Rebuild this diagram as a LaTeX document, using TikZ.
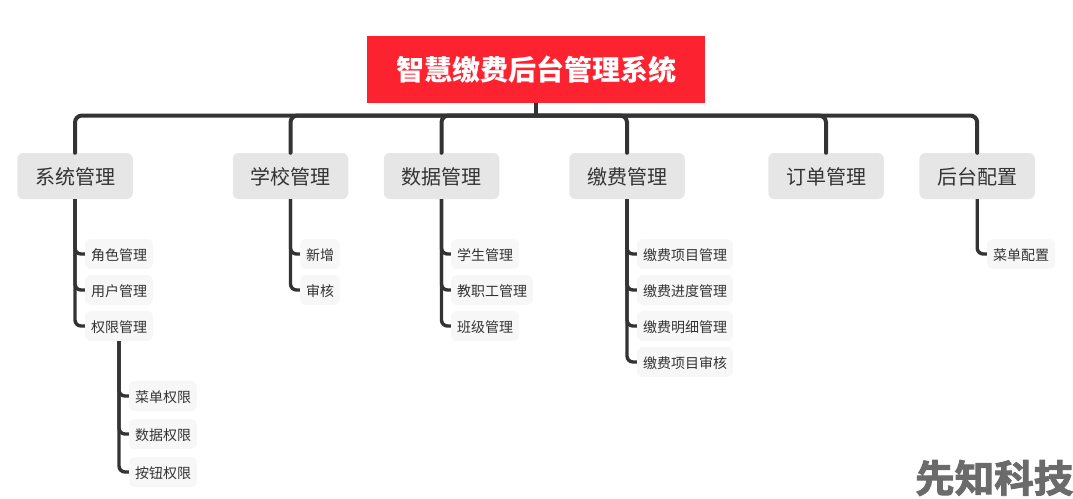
\documentclass[tikz,border=0pt]{standalone}
\usepackage{fontspec}
\setmainfont{Noto Sans CJK SC}
\newfontfamily\wmfont[FakeBold=2.5,FakeStretch=1.04]{Noto Sans CJK SC Bold}
\definecolor{rootred}{HTML}{FC2230}
\definecolor{linecol}{HTML}{333333}
\definecolor{topfill}{HTML}{E6E6E6}
\definecolor{leaffill}{HTML}{F7F7F7}
\tikzset{
 rootbox/.style={fill=rootred,text=white,font=\fontsize{28}{30}\selectfont\bfseries,minimum width=338pt,minimum height=67pt,inner sep=0},
 topbox/.style={fill=topfill,text=black!80,rounded corners=6pt,font=\fontsize{20}{22}\selectfont,minimum width=115.5pt,minimum height=46pt,inner sep=0,text height=20pt,text depth=3.2pt},
 leafbox/.style={fill=leaffill,text=black!80,rounded corners=6pt,font=\fontsize{14}{16}\selectfont,minimum height=30pt,inner sep=0,text height=14pt,text depth=1.8pt},
 wide/.style={minimum width=#1pt},
 bus/.style={draw=linecol,line width=4pt,rounded corners=7pt,line cap=round},
 branch/.style={draw=linecol,line width=3.4pt,rounded corners=6pt},
 mark text/.style={text=black!58,font=\fontsize{38}{40}\wmfont,inner sep=0}
}
\begin{document}
\begin{tikzpicture}[x=1pt,y=-1pt]
\useasboundingbox (0,0) rectangle (1073,498);
\node[rootbox] (root) at (536,69.5) {智慧缴费后台管理系统};
\coordinate (hub) at (536,115.5);
\node[topbox] (a) at (75,176) {系统管理};
\node[topbox] (b) at (290.5,176) {学校管理};
\node[topbox] (c) at (441.5,176) {数据管理};
\node[topbox] (d) at (627,176) {缴费管理};
\node[topbox] (e) at (826,176) {订单管理};
\node[topbox] (f) at (977.2,176) {后台配置};
\node[leafbox,wide=68] (a1) at (119,254) {角色管理};
\node[leafbox,wide=68] (a2) at (119,290) {用户管理};
\node[leafbox,wide=68] (a3) at (119,326) {权限管理};
\node[leafbox,wide=68] (s1) at (163,396) {菜单权限};
\node[leafbox,wide=68] (s2) at (163,434) {数据权限};
\node[leafbox,wide=68] (s3) at (163,472) {按钮权限};
\node[leafbox,wide=40] (b1) at (320,254) {新增};
\node[leafbox,wide=40] (b2) at (320,290) {审核};
\node[leafbox,wide=68] (c1) at (485,254) {学生管理};
\node[leafbox,wide=82] (c2) at (492,290) {教职工管理};
\node[leafbox,wide=68] (c3) at (485,326) {班级管理};
\node[leafbox,wide=96] (d1) at (685,254) {缴费项目管理};
\node[leafbox,wide=96] (d2) at (685,290) {缴费进度管理};
\node[leafbox,wide=96] (d3) at (685,326) {缴费明细管理};
\node[leafbox,wide=96] (d4) at (685,362) {缴费项目审核};
\node[leafbox,wide=68] (f1) at (1021,254) {菜单配置};
\node[mark text,anchor=east] (wm) at (1073.5,478) {先知科技};
\draw[linecol,line width=4pt] (root.south) -- (hub);
\foreach \t in {a,b,c,d,e,f} \draw[bus] (hub) -| (\t.north);
\foreach \t/\k in {a/a1,a/a2,a/a3,b/b1,b/b2,c/c1,c/c2,c/c3,d/d1,d/d2,d/d3,d/d4,f/f1,a3/s1,a3/s2,a3/s3}
  \draw[branch] (\t.south) |- (\k.west);
\end{tikzpicture}
\end{document}
